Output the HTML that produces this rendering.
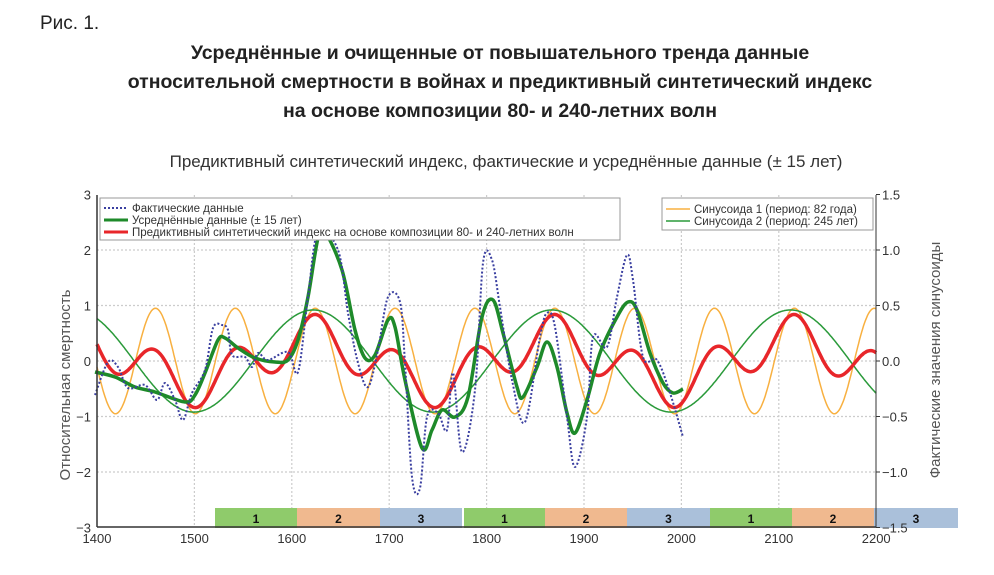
<!DOCTYPE html>
<html><head><meta charset="utf-8"><style>
body{margin:0;background:#fff;width:994px;height:570px;overflow:hidden;font-family:"Liberation Sans","DejaVu Sans",sans-serif}
</style></head><body>
<svg id="s" width="994" height="570" xmlns="http://www.w3.org/2000/svg" font-family="Liberation Sans, DejaVu Sans, sans-serif">
<text x="40" y="29" font-size="19" fill="#222">Рис. 1.</text>
<g font-size="19.5" font-weight="bold" fill="#222" text-anchor="middle">
<text x="500" y="59">Усреднённые и очищенные от повышательного тренда данные</text>
<text x="500" y="88">относительной смертности в войнах и предиктивный синтетический индекс</text>
<text x="500" y="117">на основе композиции 80- и 240-летних волн</text>
</g>
<text x="506" y="167" font-size="17" fill="#333" text-anchor="middle">Предиктивный синтетический индекс, фактические и усреднённые данные (± 15 лет)</text>
<g id="grid" stroke="#ccc" stroke-width="1.2" stroke-dasharray="2,2"></g>
<g id="bands"></g>
<g id="curves" fill="none"></g>
<line x1="97" y1="195" x2="97" y2="527" stroke="#333" stroke-width="1.5"/>
<line x1="97" y1="527" x2="876" y2="527" stroke="#333" stroke-width="1.5"/>
<line x1="876" y1="195" x2="876" y2="527" stroke="#333" stroke-width="1"/>
<g id="ticks" font-size="13" fill="#333"></g>
<text transform="translate(70,385) rotate(-90)" font-size="15" fill="#555" text-anchor="middle">Относительная смертность</text>
<text transform="translate(940,360) rotate(-90)" font-size="15" fill="#555" text-anchor="middle">Фактические значения синусоиды</text>
<g font-size="11.5" fill="#333">
<rect x="100" y="198" width="520" height="42" fill="#fff" stroke="#999"/>
<line x1="104" y1="208" x2="128" y2="208" stroke="#3a3fa0" stroke-width="2" stroke-dasharray="2,2"/>
<text x="132" y="212">Фактические данные</text>
<line x1="104" y1="220" x2="128" y2="220" stroke="#1e8a2a" stroke-width="3"/>
<text x="132" y="224">Усреднённые данные (± 15 лет)</text>
<line x1="104" y1="232" x2="128" y2="232" stroke="#e8262a" stroke-width="3"/>
<text x="132" y="236">Предиктивный синтетический индекс на основе композиции 80- и 240-летних волн</text>
<rect x="662" y="198" width="211" height="32" fill="#fff" stroke="#999"/>
<line x1="666" y1="209" x2="690" y2="209" stroke="#f8b040" stroke-width="1.5"/>
<text x="694" y="213">Синусоида 1 (период: 82 года)</text>
<line x1="666" y1="221" x2="690" y2="221" stroke="#2a9a3a" stroke-width="1.5"/>
<text x="694" y="225">Синусоида 2 (период: 245 лет)</text>
</g>
</svg>
<script>
var NS="http://www.w3.org/2000/svg";
function el(p,t,a,txt){var e=document.createElementNS(NS,t);for(var k in a)e.setAttribute(k,a[k]);if(txt!==undefined)e.textContent=txt;document.getElementById(p).appendChild(e);return e;}
function X(y){return 97+(y-1400)*0.974;}
function Y(v){return 361-55.5*v;}
for(var yr=1500;yr<=2100;yr+=100)el("grid","line",{x1:X(yr),x2:X(yr),y1:195,y2:527});
for(var v=-2;v<=2;v++)el("grid","line",{x1:97,x2:876,y1:Y(v),y2:Y(v)});
for(var yr=1400;yr<=2200;yr+=100)el("ticks","text",{x:X(yr),y:543,"text-anchor":"middle"},""+yr);
for(var v=-3;v<=3;v++)el("ticks","text",{x:91,y:Y(v)+5,"text-anchor":"end"},(v<0?"−"+(-v):""+v));
var rl=["1.5","1.0","0.5","0.0","−0.5","−1.0","−1.5"];
for(var i=0;i<7;i++){el("ticks","text",{x:882,y:Y(3-i)+5},rl[i]);el("ticks","line",{x1:876,x2:880,y1:Y(3-i),y2:Y(3-i),stroke:"#333"});}
var bands=[[215,297,"#8fcb6b","1"],[297,380,"#f0b98f","2"],[380,462,"#aac0da","3"],[464,545,"#8fcb6b","1"],[545,627,"#f0b98f","2"],[627,710,"#aac0da","3"],[710,792,"#8fcb6b","1"],[792,874,"#f0b98f","2"],[874,958,"#aac0da","3"]];
bands.forEach(function(b){el("bands","rect",{x:b[0],y:508,width:b[1]-b[0],height:20,fill:b[2]});el("bands","text",{x:(b[0]+b[1])/2,y:523,"font-size":"12","font-weight":"bold","text-anchor":"middle",fill:"#111"},b[3]);});
function fpath(f,a,b){var d="";for(var t=a;t<=b;t+=1){d+=(t==a?"M":"L")+X(t).toFixed(1)+","+Y(f(t)).toFixed(1);}return d;}
function o(t){return Math.cos(2*Math.PI*(t-1460)/82);}
function g(t){return Math.cos(2*Math.PI*(t-1622)/245);}
el("curves","path",{d:fpath(function(t){return 0.95*o(t)},1400,2200),stroke:"#f8b040","stroke-width":1.5});
el("curves","path",{d:fpath(function(t){return 0.92*g(t)},1400,2200),stroke:"#2a9a3a","stroke-width":1.5});
el("curves","path",{d:fpath(function(t){return 0.42*o(t)+0.42*g(t)},1400,2200),stroke:"#e8262a","stroke-width":3.5});
function cr(p){var d="M"+p[0][0]+","+p[0][1];for(var i=0;i<p.length-1;i++){var p0=p[i-1]||p[i],p1=p[i],p2=p[i+1],p3=p[i+2]||p2;
d+="C"+(p1[0]+(p2[0]-p0[0])/6).toFixed(1)+","+(p1[1]+(p2[1]-p0[1])/6).toFixed(1)+" "+(p2[0]-(p3[0]-p1[0])/6).toFixed(1)+","+(p2[1]-(p3[1]-p1[1])/6).toFixed(1)+" "+p2[0]+","+p2[1];}return d;}
var blue=[[95,395],[108,362],[118,367],[128,388],[145,385],[157,400],[165,383],[175,400],[183,420],[192,393],[205,370],[213,328],[222,325],[228,330],[232,355],[245,357],[252,367],[258,353],[268,360],[288,352],[298,372],[308,297],[318,232],[338,250],[348,313],[358,363],[368,387],[378,350],[388,297],[400,302],[405,363],[412,477],[420,488],[427,417],[438,413],[447,430],[453,373],[462,452],[475,390],[483,263],[492,260],[500,307],[512,380],[525,422],[540,337],[547,313],[555,327],[567,417],[575,467],[587,417],[593,337],[607,347],[617,297],[627,255],[633,280],[643,357],[657,360],[670,393],[683,437]];
var green=[[95,372],[115,377],[135,387],[155,392],[185,402],[195,395],[205,373],[218,340],[225,338],[238,348],[255,358],[275,362],[288,360],[298,340],[308,297],[318,238],[325,232],[342,270],[355,330],[365,358],[375,355],[388,320],[395,327],[405,380],[422,448],[432,430],[442,410],[455,417],[468,397],[482,317],[493,300],[503,333],[517,387],[523,397],[537,367],[547,342],[557,367],[567,413],[575,433],[587,400],[600,353],[617,317],[628,302],[637,310],[650,353],[663,383],[673,393],[683,389]];
el("curves","path",{d:cr(green),stroke:"#1e8a2a","stroke-width":3.5});
el("curves","path",{d:cr(blue),stroke:"#3a3fa0","stroke-width":2,"stroke-dasharray":"2,2"});
</script>
</body></html>
